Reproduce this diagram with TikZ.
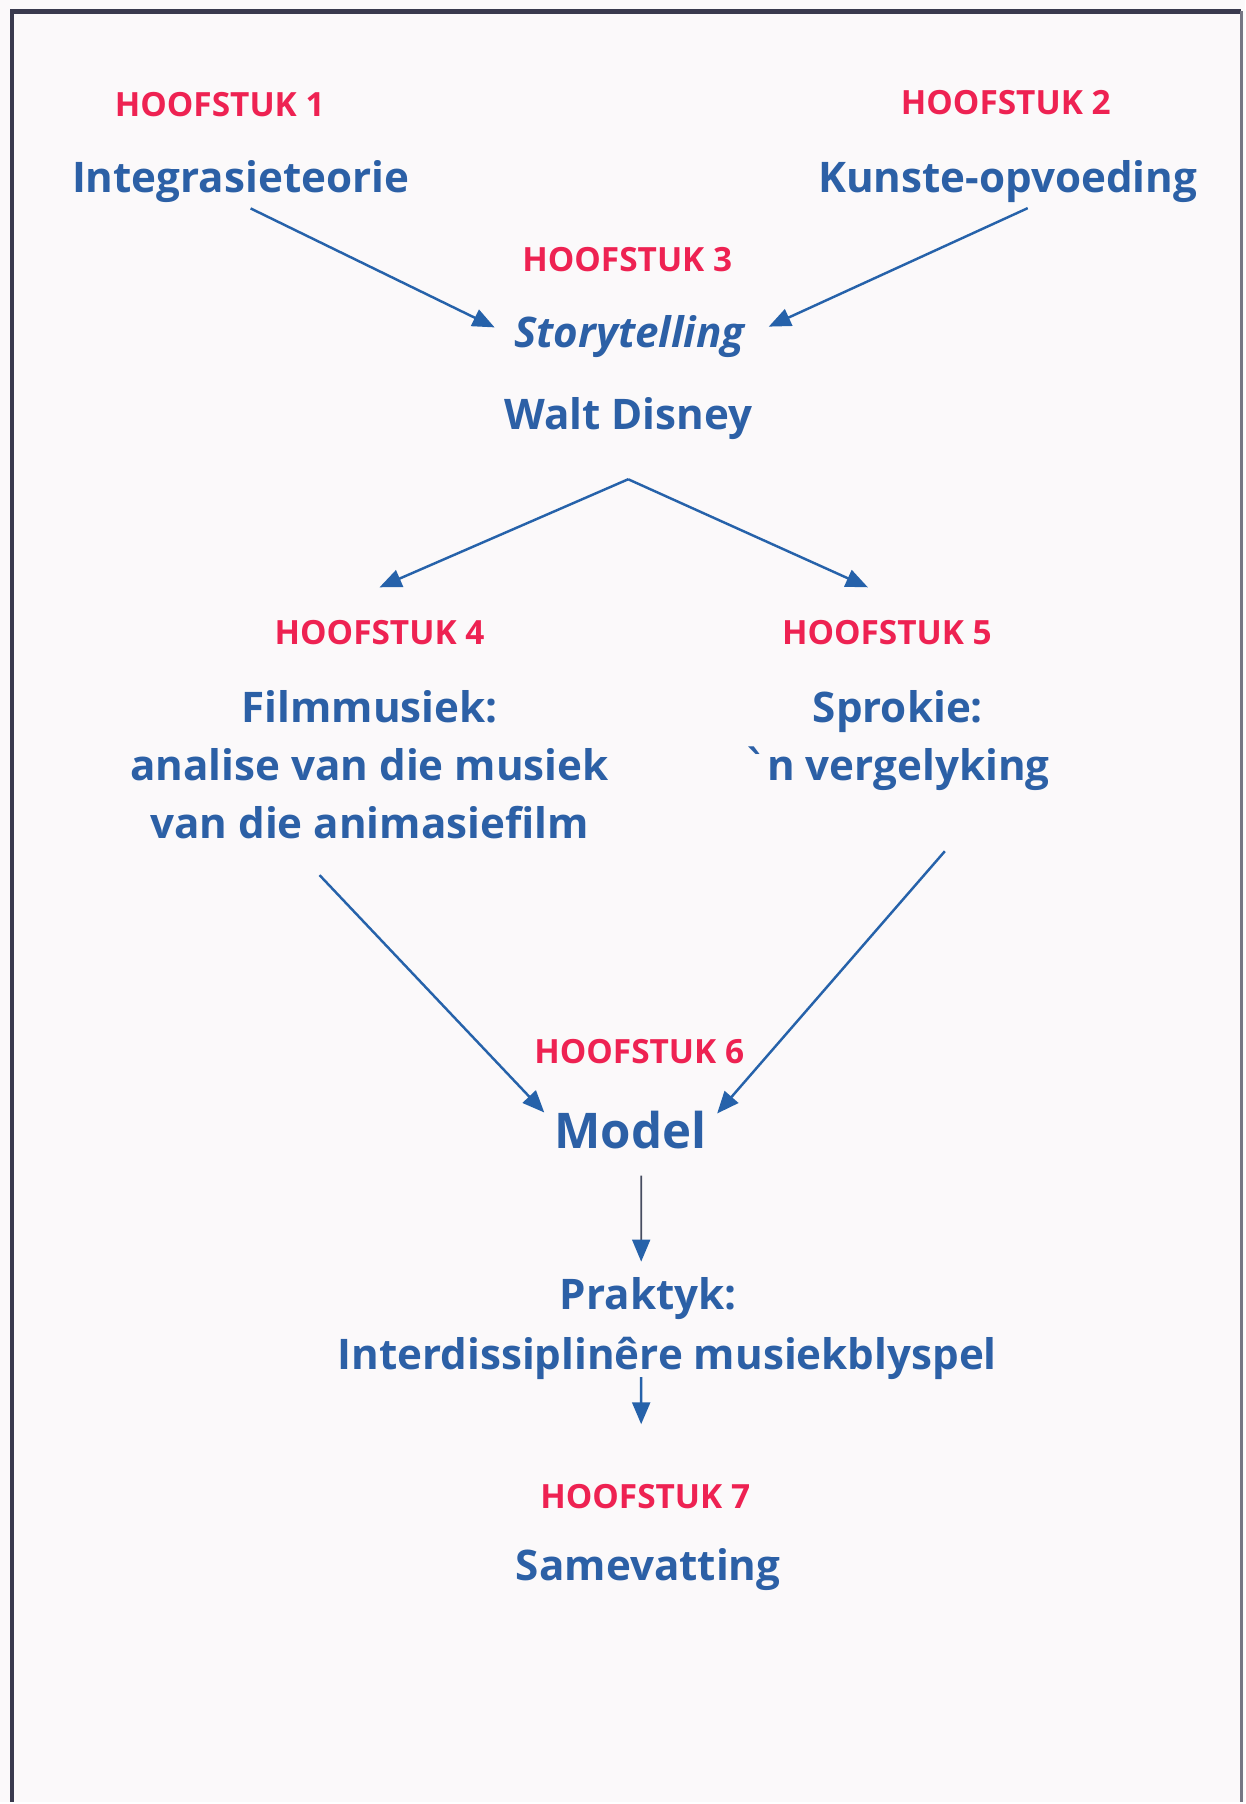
\documentclass[tikz,border=0pt]{standalone}
\usepackage{fontspec}
\setmainfont{Open Sans}
\newfontfamily\gravefont{DejaVu Sans}
\usetikzlibrary{arrows.meta, positioning}

\definecolor{chapred}{RGB}{238,34,82}
\definecolor{titleblue}{RGB}{44,96,166}
\definecolor{linkblue}{RGB}{38,98,170}
\definecolor{stemgray}{RGB}{70,76,96}
\definecolor{framegray}{RGB}{58,58,78}
\definecolor{pagebg}{RGB}{251,249,250}

\begin{document}
\begin{tikzpicture}[x=0.01cm, y=-0.01cm,
    % Styles
    chap/.style={anchor=base, inner sep=0pt, text=chapred, font=\fontsize{9.5}{11}\selectfont\bfseries},
    title/.style={anchor=base, inner sep=0pt, text=titleblue, font=\fontsize{12}{16.2}\selectfont\bfseries},
    block/.style={anchor=north, inner sep=0pt, align=center, text=titleblue, font=\fontsize{12}{16.4}\selectfont\bfseries},
    arrow/.style={-{Triangle[length=2.2mm, width=1.8mm]}, line width=0.7pt, linkblue},
    stemarrow/.style={-{Triangle[length=2.2mm, width=1.8mm, color=linkblue]}, line width=0.5pt, stemgray},
]

% Page and frame
\fill[pagebg] (0,0) rectangle (1247,1804);
\draw[framegray, line width=1.3pt] (12,1804) -- (12,11.5) -- (1243,11.5);
\draw[framegray!70, line width=0.6pt] (1243,11.5) -- (1243,1804);

% === TOP ROW ===
\node[chap] (h1) at (220,117) {HOOFSTUK 1};
\node[title] (integ) at (241,193) {Integrasieteorie};
\node[chap] (h2) at (1007,115) {HOOFSTUK 2};
\node[title] (kunste) at (1009,193) {Kunste-opvoeding};

\node[chap] (h3) at (628,272) {HOOFSTUK 3};
\node[title] (story) at (631,348) {\textit{Storytelling}};
\node[title] (disney) at (629,430) {Walt Disney};
\coordinate[below=0.39cm of disney] (split);

\draw[arrow, shorten <=1.1mm, shorten >=2.1mm] (integ.south) -- (story.west);
\draw[arrow, shorten <=1.1mm, shorten >=2.4mm] ([xshift=3mm]kunste.south) -- (story.east);

% === MIDDLE ROW ===
\node[chap] (h4) at (380,645) {HOOFSTUK 4};
\node[block] (film) at (370,691) {Filmmusiek:\\analise van die musiek\\van die animasiefilm};
\node[chap] (h5) at (888,645) {HOOFSTUK 5};
\node[block] (sprokie) at (899,691) {Sprokie:\\{\gravefont\bfseries ˋ}n vergelyking};

\draw[arrow] (split) -- ([yshift=3.2mm]h4.north);
\draw[arrow] (split) -- ([xshift=-1.9mm, yshift=3.2mm]h5.north);

% === LOWER PART ===
\node[chap] (h6) at (640,1065) {HOOFSTUK 6};
\node[title, font=\fontsize{14}{18}\selectfont\bfseries] (model) at (631,1150) {Model};

\draw[arrow] ([xshift=-5mm, yshift=-3.6mm]film.south) -- ([xshift=-8.6mm, yshift=-0.2mm]model.north);
\draw[arrow] ([xshift=4.7mm, yshift=-6mm]sprokie.south) -- ([xshift=8.7mm, yshift=-0.3mm]model.north);

\node[title] (prak) at (649,1311) {Praktyk:};
\node[title] (inter) at (668,1371) {Interdissiplinêre musiekblyspel};
\node[chap] (h7) at (646,1510) {HOOFSTUK 7};
\node[title] (same) at (649,1582) {Samevatting};

\draw[stemarrow] ([xshift=1.1mm, yshift=-2.6mm]model.south) -- ([xshift=-0.7mm, yshift=1.5mm]prak.north);
\draw[arrow] ([xshift=-2.6mm, yshift=0.3mm]inter.south) -- ([xshift=-0.4mm, yshift=5.9mm]h7.north);

\end{tikzpicture}
\end{document}
